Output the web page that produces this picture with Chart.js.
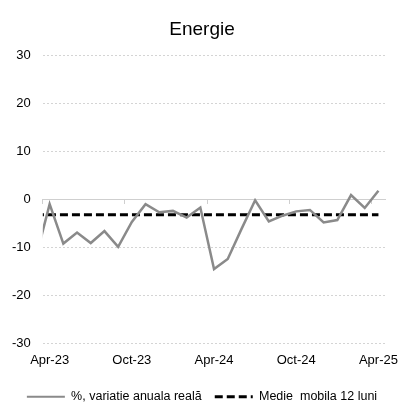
<!DOCTYPE html>
<html>
<head>
<meta charset="utf-8">
<script src="https://cdn.jsdelivr.net/npm/chart.js@4"></script>
<style>
  body { margin: 0; background: #fff; }
  #wrap { width: 407px; height: 402px; }
</style>
</head>
<body>
<div id="wrap"><canvas id="chart" width="407" height="402"></canvas></div>
<script>
// months shown on the axis run Apr-23 .. Apr-25, Mar-23 sits just left of the axis
const months = ['Mar-23', 'Apr-23', 'May-23', 'Jun-23', 'Jul-23', 'Aug-23', 'Sep-23', 'Oct-23',
  'Nov-23', 'Dec-23', 'Jan-24', 'Feb-24', 'Mar-24', 'Apr-24', 'May-24', 'Jun-24', 'Jul-24',
  'Aug-24', 'Sep-24', 'Oct-24', 'Nov-24', 'Dec-24', 'Jan-25', 'Feb-25', 'Mar-25', 'Apr-25'];

const realChange = [-12.0, -0.9, -9.1, -6.8, -9.0, -6.5, -9.8, -4.6, -0.9, -2.6, -2.3, -3.7, -1.6,
  -14.4, -12.3, -6.1, -0.1, -4.5, -3.3, -2.4, -2.1, -4.7, -4.2, 1.0, -1.7, 1.9];

const movingAvg = [-3.1, -3.1, -3.1, -3.1, -3.1, -3.1, -3.1, -3.1, -3.1, -3.1, -3.1, -3.1, -3.1,
  -3.1, -3.1, -3.1, -3.1, -3.1, -3.1, -3.1, -3.1, -3.1, -3.1, -3.1, -3.1, -3.1];

const tickMonths = ['Apr-23', 'Oct-23', 'Apr-24', 'Oct-24', 'Apr-25'];
const yTicks = [-30, -20, -10, 0, 10, 20, 30];

// x value = months since start of Apr-23, each point sits mid-month
const xOf = i => i - 0.5;
const toPoints = arr => arr.map((v, i) => ({ x: xOf(i), y: v }));

const font = 'Liberation Sans, Arial, sans-serif';
Chart.defaults.font.family = font;
Chart.defaults.color = '#000';

// legend samples: same colour/dash as the lines (point style would drop the dash)
const legendWidths = [2, 3];
const makeLabels = chart =>
  Chart.defaults.plugins.legend.labels.generateLabels(chart).map((item, i) => {
    const ds = chart.data.datasets[i];
    return Object.assign(item, {
      pointStyle: 'line',
      strokeStyle: ds.borderColor,
      lineDash: ds.borderDash || [],
      lineWidth: legendWidths[i]
    });
  });

new Chart(document.getElementById('chart'), {
  type: 'line',
  data: {
    datasets: [
      {
        label: '%, variatie anuala reală',
        data: toPoints(realChange),
        borderColor: '#8a8a8a',
        backgroundColor: '#8a8a8a',
        borderWidth: 2.5,
        pointRadius: 0,
        tension: 0,
        clip: 0
      },
      {
        label: 'Medie  mobila 12 luni',
        data: toPoints(movingAvg),
        borderColor: '#000',
        backgroundColor: '#000',
        borderWidth: 3,
        borderDash: [8, 4],
        pointRadius: 0,
        tension: 0,
        clip: 0
      }
    ]
  },
  options: {
    responsive: false,
    animation: false,
    devicePixelRatio: 1,
    // negative bottom pad pushes the legend's own bottom padding off the canvas
    layout: { padding: { left: 0, right: 3, top: 0, bottom: -11 } },
    plugins: {
      title: {
        display: true,
        text: 'Energie',
        font: { size: 19, weight: 'normal' },
        padding: { top: 18, bottom: 15 }
      },
      legend: {
        position: 'bottom',
        labels: {
          usePointStyle: true,
          pointStyle: 'line',
          pointStyleWidth: 38,
          padding: 13,
          font: { size: 12.5 },
          generateLabels: makeLabels
        }
      },
      tooltip: { enabled: false }
    },
    scales: {
      x: {
        type: 'linear',
        min: 0,
        max: 25,
        grid: { display: false, drawTicks: false },
        border: { display: false },
        afterBuildTicks: s => { s.ticks = tickMonths.map(m => ({ value: xOf(months.indexOf(m)) })); },
        ticks: {
          padding: 9,
          maxRotation: 0,
          font: { size: 13 },
          callback: v => months[v + 0.5]
        }
      },
      x0: {
        type: 'linear',
        position: { y: 0 },
        min: 0,
        max: 25,
        afterBuildTicks: s => { s.ticks = tickMonths.map(m => ({ value: months.indexOf(m) - 1 })); },
        grid: { drawOnChartArea: false, color: '#cfcfcf', tickLength: 4 },
        border: { color: '#cfcfcf', width: 1 },
        ticks: { display: false }
      },
      y: {
        min: -30,
        max: 30,
        afterBuildTicks: s => { s.ticks = yTicks.map(v => ({ value: v })); },
        grid: {
          drawTicks: false,
          color: ctx => ctx.tick && ctx.tick.value === 0 ? 'rgba(0,0,0,0)' : '#d4d4d4'
        },
        border: { display: false, dash: [2, 2] },
        ticks: { padding: 12, font: { size: 13 } }
      }
    }
  }
});
</script>
</body>
</html>
